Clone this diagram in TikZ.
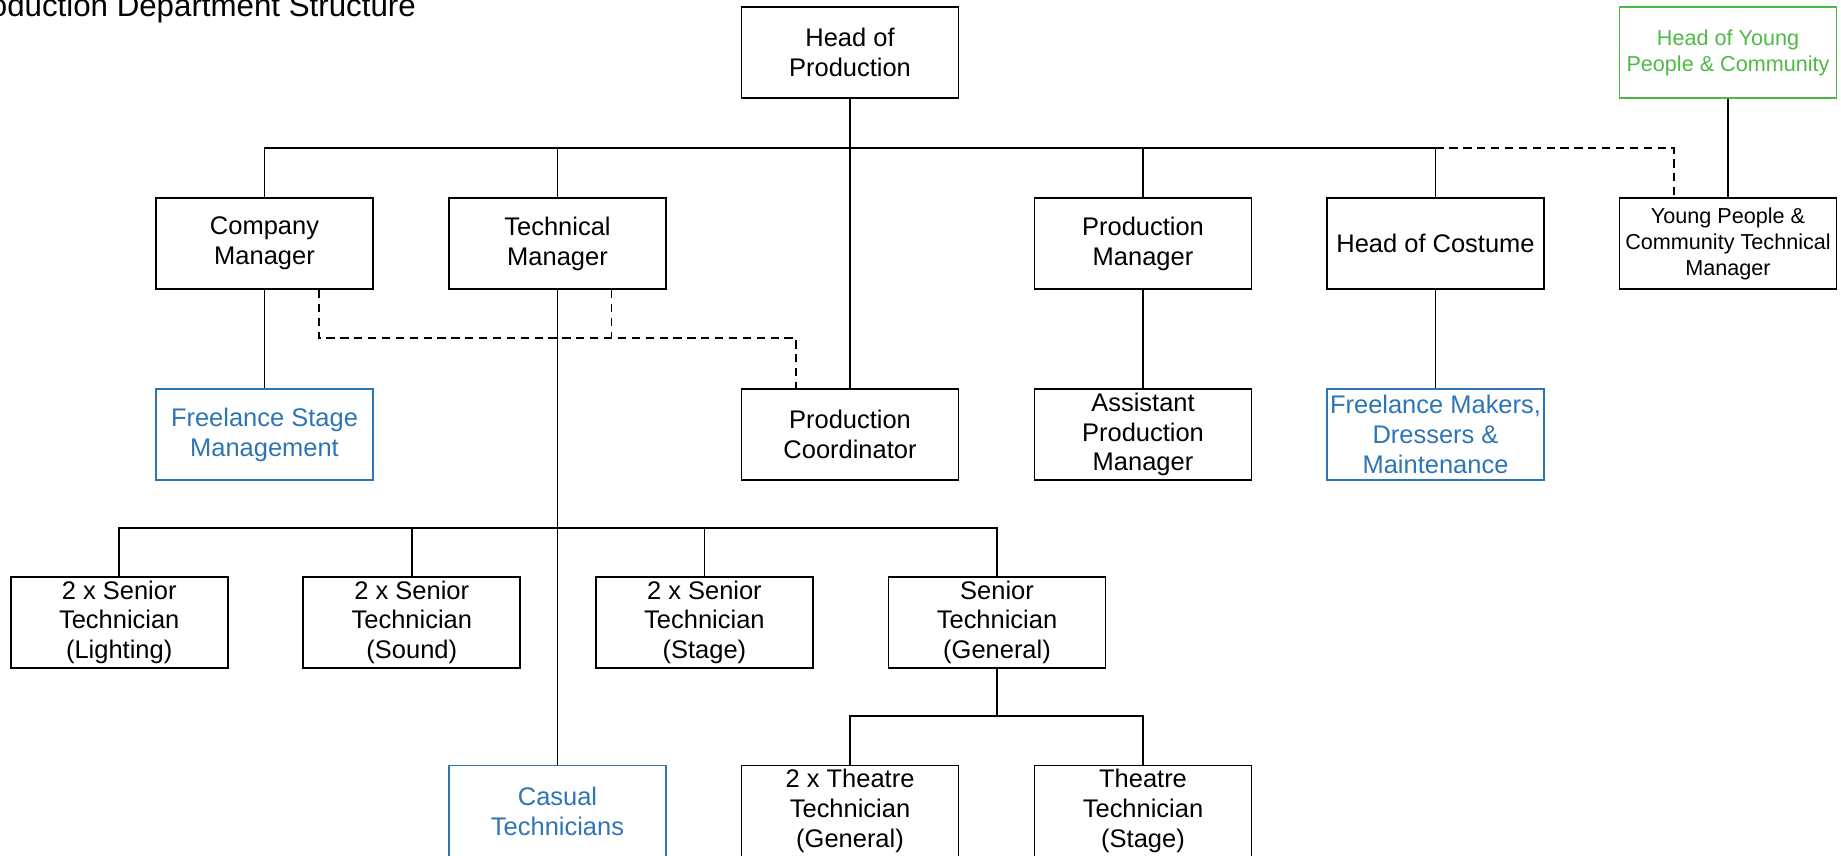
\documentclass[tikz,border=0pt]{standalone}
\usepackage{fontspec}
\setmainfont{Liberation Sans}
\usetikzlibrary{calc}
\definecolor{freeblue}{RGB}{46,117,182}
\definecolor{ypgreen}{RGB}{78,186,70}

\begin{document}
\begin{tikzpicture}[x=0.02cm, y=-0.02cm,
		post/.style={draw, line width=1pt, minimum width=4.34cm, minimum height=1.82cm, inner sep=1pt, align=center, font=\fontsize{14.5}{17}\selectfont},
		freelance/.style={post, draw=freeblue, text=freeblue},
		smallpost/.style={post, font=\fontsize{12.3}{14.8}\selectfont},
		youngpost/.style={smallpost, draw=ypgreen, text=ypgreen},
		link/.style={line width=1pt},
		dashlink/.style={line width=1pt, dash pattern=on 4.7pt off 3.2pt}]
			%%%%% START %%%%%
			
			\useasboundingbox (0,0) rectangle (1841,855);
			
			\node[anchor=base east, font=\fontsize{17.8}{21}\selectfont] (title) at (422,16.7) {Production Department Structure};
			
			% top two rows
			\node[post] (hop) at (850,52.5) {Head of\\Production};
			\node[youngpost] (hyp) at (1728,52.5) {Head of Young\\People \& Community};
			
			\node[post] (cm) at (264.5,243.5) {Company\\Manager};
			\node[post] (tm) at (557.5,243.5) {Technical\\Manager};
			\node[post] (pm) at (1143,243.5) {Production\\Manager};
			\node[post] (hoc) at (1435.5,243.5) {Head of Costume};
			\node[smallpost] (yptm) at (1728,243.5) {Young People \&\\Community Technical\\Manager};
			
			% third row
			\node[freelance] (fsm) at (264.5,434.5) {Freelance Stage\\Management};
			\node[post] (pc) at (850,434.5) {Production\\Coordinator};
			\node[post] (apm) at (1143,434.5) {Assistant\\Production\\Manager};
			\node[freelance] (fmd) at (1435.5,434.5) {Freelance Makers,\\Dressers \&\\Maintenance};
			
			% senior technicians
			\node[post] (stl) at (119.2,622.3) {2 x Senior\\Technician\\(Lighting)};
			\node[post] (sts) at (411.8,622.3) {2 x Senior\\Technician\\(Sound)};
			\node[post] (stst) at (704.4,622.3) {2 x Senior\\Technician\\(Stage)};
			\node[post] (stg) at (997,622.3) {Senior\\Technician\\(General)};
			
			% bottom row
			\node[freelance] (ct) at (557.5,811) {Casual\\Technicians};
			\node[post] (ttg) at (850,811) {2 x Theatre\\Technician\\(General)};
			\node[post] (tts) at (1143,811) {Theatre\\Technician\\(Stage)};
			
			% solid lines
			\coordinate (topbus) at (850,148);
			\draw[link] (hop) -- (pc);
			\draw[link] (cm.north) |- (topbus) -| (hoc.north);
			\draw[link] (tm.north) -- (tm.north |- topbus);
			\draw[link] (pm.north) -- (pm.north |- topbus);
			\draw[link] (hyp) -- (yptm);
			\draw[link] (cm) -- (fsm);
			\draw[link] (pm) -- (apm);
			\draw[link] (hoc) -- (fmd);
			\draw[link] (tm) -- (ct);
			
			\coordinate (techbus) at (557.5,528);
			\draw[link] (stl.north) |- (techbus) -| (stg.north);
			\draw[link] (sts.north) -- (sts.north |- techbus);
			\draw[link] (stst.north) -- (stst.north |- techbus);
			
			\coordinate (genbus) at (997,716);
			\draw[link] (stg) -- (genbus);
			\draw[link] (ttg.north) |- (genbus) -| (tts.north);
			
			% dashed lines
			\draw[dashlink] (hoc.north |- topbus) -| ($(yptm.north)+(-54,0)$);
			\coordinate (dashbus) at (557.5,338);
			\draw[dashlink] ($(cm.south)+(54.5,0)$) |- (dashbus) -| ($(pc.north)+(-54,0)$);
			\draw[dashlink] ($(tm.south)+(54,0)$) -- ++(0,49);
			
			%%%%% END %%%%%
		\end{tikzpicture}
\end{document}
